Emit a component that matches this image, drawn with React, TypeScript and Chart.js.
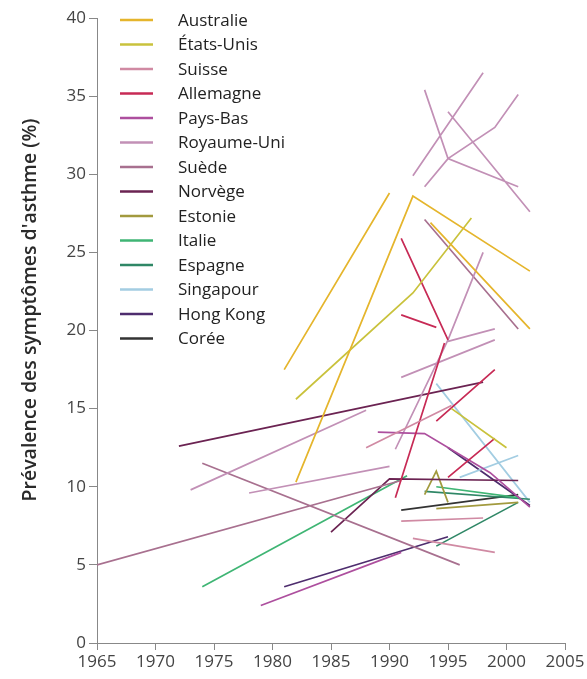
import { useEffect, useRef } from 'react';
import { Chart, registerables } from 'chart.js';

Chart.register(...registerables);

const countries = [
  'Australie', 'États-Unis', 'Suisse', 'Allemagne', 'Pays-Bas', 'Royaume-Uni', 'Suède',
  'Norvège', 'Estonie', 'Italie', 'Espagne', 'Singapour', 'Hong Kong', 'Corée',
];

const colors = [
  '#e5b52c', '#c9c23c', '#d08aa3', '#c72a55', '#ad4f9e', '#c290b6', '#a8708f',
  '#6b2352', '#a29a3e', '#3fb574', '#2f8766', '#a3cde2', '#4e2d6e', '#333333',
];

// Each country: list of survey segments, each a list of [year, prevalence %]
const australie = [
  [[1981, 17.5], [1990, 28.8]],
  [[1982, 10.3], [1992, 28.6], [2002, 23.8]],
  [[1993.5, 26.9], [2002, 20.1]],
];
const etatsUnis = [
  [[1982, 15.6], [1992, 22.4], [1997, 27.2]],
  [[1995.3, 15.0], [2000, 12.5]],
];
const suisse = [
  [[1991, 7.8], [1998, 8.0]],
  [[1992, 6.7], [1999, 5.8]],
  [[1988, 12.5], [1995.3, 15.2]],
];
const allemagne = [
  [[1991, 25.9], [1995, 19.4]],
  [[1991, 21.0], [1994, 20.2]],
  [[1994, 14.2], [1999, 17.5]],
  [[1995, 10.6], [1999, 13.1]],
  [[1990.5, 9.3], [1994.7, 19.2]],
];
const paysBas = [
  [[1979, 2.4], [1991, 5.8]],
  [[1989, 13.5], [1993, 13.4], [1998.6, 10.9], [2002, 8.7]],
];
const royaumeUni = [
  [[1993, 35.4], [1995, 31.0], [2001, 29.2]],
  [[1992, 29.9], [1998, 36.5]],
  [[1993, 29.2], [1995, 31.0], [1999, 33.0], [2001, 35.1]],
  [[1995, 34.0], [2002, 27.6]],
  [[1990.5, 12.4], [1995, 19.4], [1998, 25.0]],
  [[1991, 17.0], [1999, 19.4]],
  [[1995, 19.3], [1999, 20.1]],
  [[1973, 9.8], [1988, 14.9]],
  [[1978, 9.6], [1990, 11.3]],
];
const suede = [
  [[1993, 27.1], [2001, 20.1]],
  [[1974, 11.5], [1996, 5.0]],
  [[1965, 5.0], [1991, 10.4]],
];
const norvege = [
  [[1972, 12.6], [1998, 16.7]],
  [[1985, 7.1], [1990, 10.5], [2001, 10.4]],
];
const estonie = [
  [[1993, 9.5], [1994, 11.0], [1995, 9.0]],
  [[1994, 8.6], [2001, 9.0]],
];
const italie = [
  [[1974, 3.6], [1991.5, 10.7]],
  [[1994, 10.0], [2001, 9.3]],
];
const espagne = [
  [[1994, 6.2], [2001, 9.0]],
  [[1993, 9.7], [2002, 9.2]],
];
const singapour = [
  [[1994, 16.6], [2002, 9.0]],
  [[1996, 10.6], [2001, 12.0]],
];
const hongKong = [
  [[1981, 3.6], [1995, 6.8]],
  [[1995, 12.5], [2002, 8.8]],
];
const coree = [
  [[1991, 8.5], [2001, 9.5]],
];

const seriesSegments = [
  australie, etatsUnis, suisse, allemagne, paysBas, royaumeUni, suede,
  norvege, estonie, italie, espagne, singapour, hongKong, coree,
];

const xTicks = [1965, 1970, 1975, 1980, 1985, 1990, 1995, 2000, 2005];
const yTicks = [0, 5, 10, 15, 20, 25, 30, 35, 40];
const yTitle = "Prévalence des symptômes d'asthme (%)";

function toPoints(segs: number[][][]) {
  const pts: { x: number; y: number | null }[] = [];
  segs.forEach((seg, i) => {
    if (i > 0) pts.push({ x: seg[0][0], y: null });
    seg.forEach(([x, y]) => pts.push({ x, y }));
  });
  return pts;
}

const legendPlugin = {
  id: 'customLegend',
  afterDatasetsDraw(chart: any) {
    const { ctx, chartArea } = chart;
    const x0 = chartArea.left + 23;
    const y0 = chartArea.top + 2;
    const row = 24.5;
    chart.data.datasets.forEach((ds: any, i: number) => {
      const y = y0 + i * row;
      ctx.save();
      ctx.strokeStyle = ds.borderColor;
      ctx.lineWidth = 2.5;
      ctx.beginPath();
      ctx.moveTo(x0, y);
      ctx.lineTo(x0 + 33, y);
      ctx.stroke();
      ctx.fillStyle = '#222';
      ctx.font = '17px "Open Sans"';
      ctx.textBaseline = 'middle';
      ctx.textAlign = 'left';
      ctx.fillText(ds.label, x0 + 58, y + 1);
      ctx.restore();
    });
    // vertical axis title
    ctx.save();
    ctx.translate(30, chartArea.top + 292);
    ctx.rotate(-Math.PI / 2);
    ctx.fillStyle = '#2a2a2a';
    ctx.font = '600 19.5px "Open Sans"';
    ctx.textAlign = 'center';
    ctx.textBaseline = 'middle';
    ctx.fillText(yTitle, 0, 0);
    ctx.restore();
  },
};

export default function App() {
  const ref = useRef<HTMLCanvasElement | null>(null);
  useEffect(() => {
    document.body.style.margin = '0';
    const canvas = ref.current;
    if (!canvas) return;
    const tickFont = { family: '"Open Sans"', size: 17 };
    const chart = new Chart(canvas, {
      type: 'line',
      data: {
        datasets: countries.map((c, i) => ({
          label: c,
          data: toPoints(seriesSegments[i]),
          borderColor: colors[i],
          backgroundColor: colors[i],
          borderWidth: 1.7,
          pointRadius: 0,
          pointHoverRadius: 0,
          spanGaps: false,
          tension: 0,
          fill: false,
        })),
      },
      options: {
        animation: false,
        responsive: false,
        layout: { padding: { top: 18, right: 22, left: 0, bottom: 0 } },
        plugins: { legend: { display: false }, tooltip: { enabled: false } },
        scales: {
          x: {
            type: 'linear',
            min: 1965,
            max: 2005,
            afterBuildTicks: (s: any) => { s.ticks = xTicks.map((v) => ({ value: v })); },
            afterFit: (s: any) => { s.height = 36; },
            ticks: {
              callback: (v: any) => String(v),
              font: tickFont,
              color: '#444',
              padding: 2,
              maxRotation: 0,
              autoSkip: false,
            },
            grid: { drawOnChartArea: false, drawTicks: true, tickLength: 7, color: '#888' },
            border: { color: '#888', width: 1 },
          },
          y: {
            type: 'linear',
            min: 0,
            max: 40,
            afterBuildTicks: (s: any) => { s.ticks = yTicks.map((v) => ({ value: v })); },
            afterFit: (s: any) => { s.width = 97; },
            ticks: { font: tickFont, color: '#444', padding: 3 },
            grid: { drawOnChartArea: false, drawTicks: true, tickLength: 8, color: '#888' },
            border: { color: '#888', width: 1 },
          },
        },
      },
      plugins: [legendPlugin],
    } as any);
    return () => chart.destroy();
  }, []);
  return <canvas ref={ref} width={587} height={679} style={{ display: 'block' }} />;
}
